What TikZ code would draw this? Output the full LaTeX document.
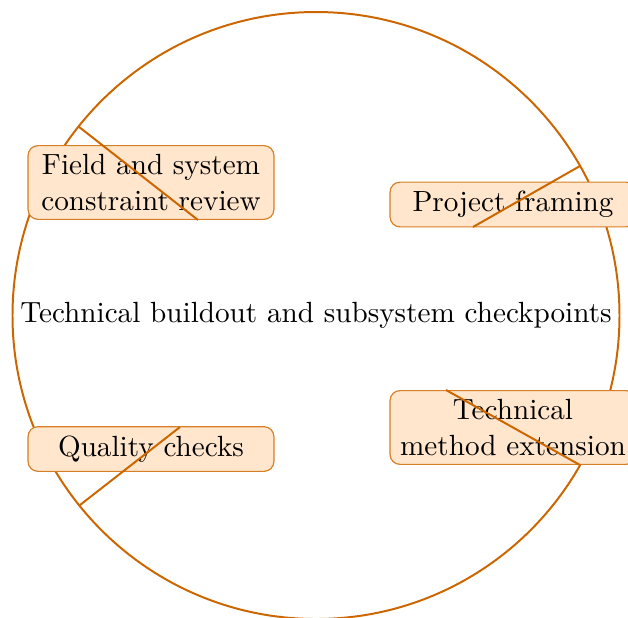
\documentclass[tikz,border=0pt]{standalone}
\usetikzlibrary{calc}
\definecolor{ringorange}{HTML}{CC6600}
\definecolor{boxfill}{HTML}{FFE6CC}
\definecolor{boxline}{HTML}{D67F26}
\begin{document}
\begin{tikzpicture}[x=0.3424pt,y=-0.3424pt,
  ring/.style={draw=ringorange,line width=0.68pt},
  spoke/.style={draw=ringorange,line width=0.68pt},
  phasebox/.style={draw=boxline,fill=boxfill,line width=0.4pt,rounded corners=3.4pt,
    minimum width=84.2pt,align=center,inner sep=3.1pt,font=\normalsize}]
\useasboundingbox (0,0) rectangle (628,617);
% outer ring
\draw[ring] (316,315.5) circle[radius=303.5];
% phase boxes sitting on the ring
\node[phasebox] (field) at (151,182.5) {Field and system\\constraint review};
\node[phasebox] (framing) at (513,204.5) {Project framing};
\node[phasebox] (method) at (513,427.5) {Technical\\method extension};
\node[phasebox] (quality) at (151,449) {Quality checks};
% radial spokes from the ring inwards
\coordinate (rA) at (78.5,126.5);
\coordinate (rB) at (580,166);
\coordinate (rC) at (580,465);
\coordinate (rD) at (80,505);
\coordinate (eA) at (198,220);
\coordinate (eB) at (473,227);
\coordinate (eC) at (446,390);
\coordinate (eD) at (180,427);
\draw[spoke] (rA) -- (eA);
\draw[spoke] (rB) -- (eB);
\draw[spoke] (rC) -- (eC);
\draw[spoke] (rD) -- (eD);
% centre label
\node (hub) at (316,315) {Technical buildout and subsystem checkpoints};
\end{tikzpicture}
\end{document}
